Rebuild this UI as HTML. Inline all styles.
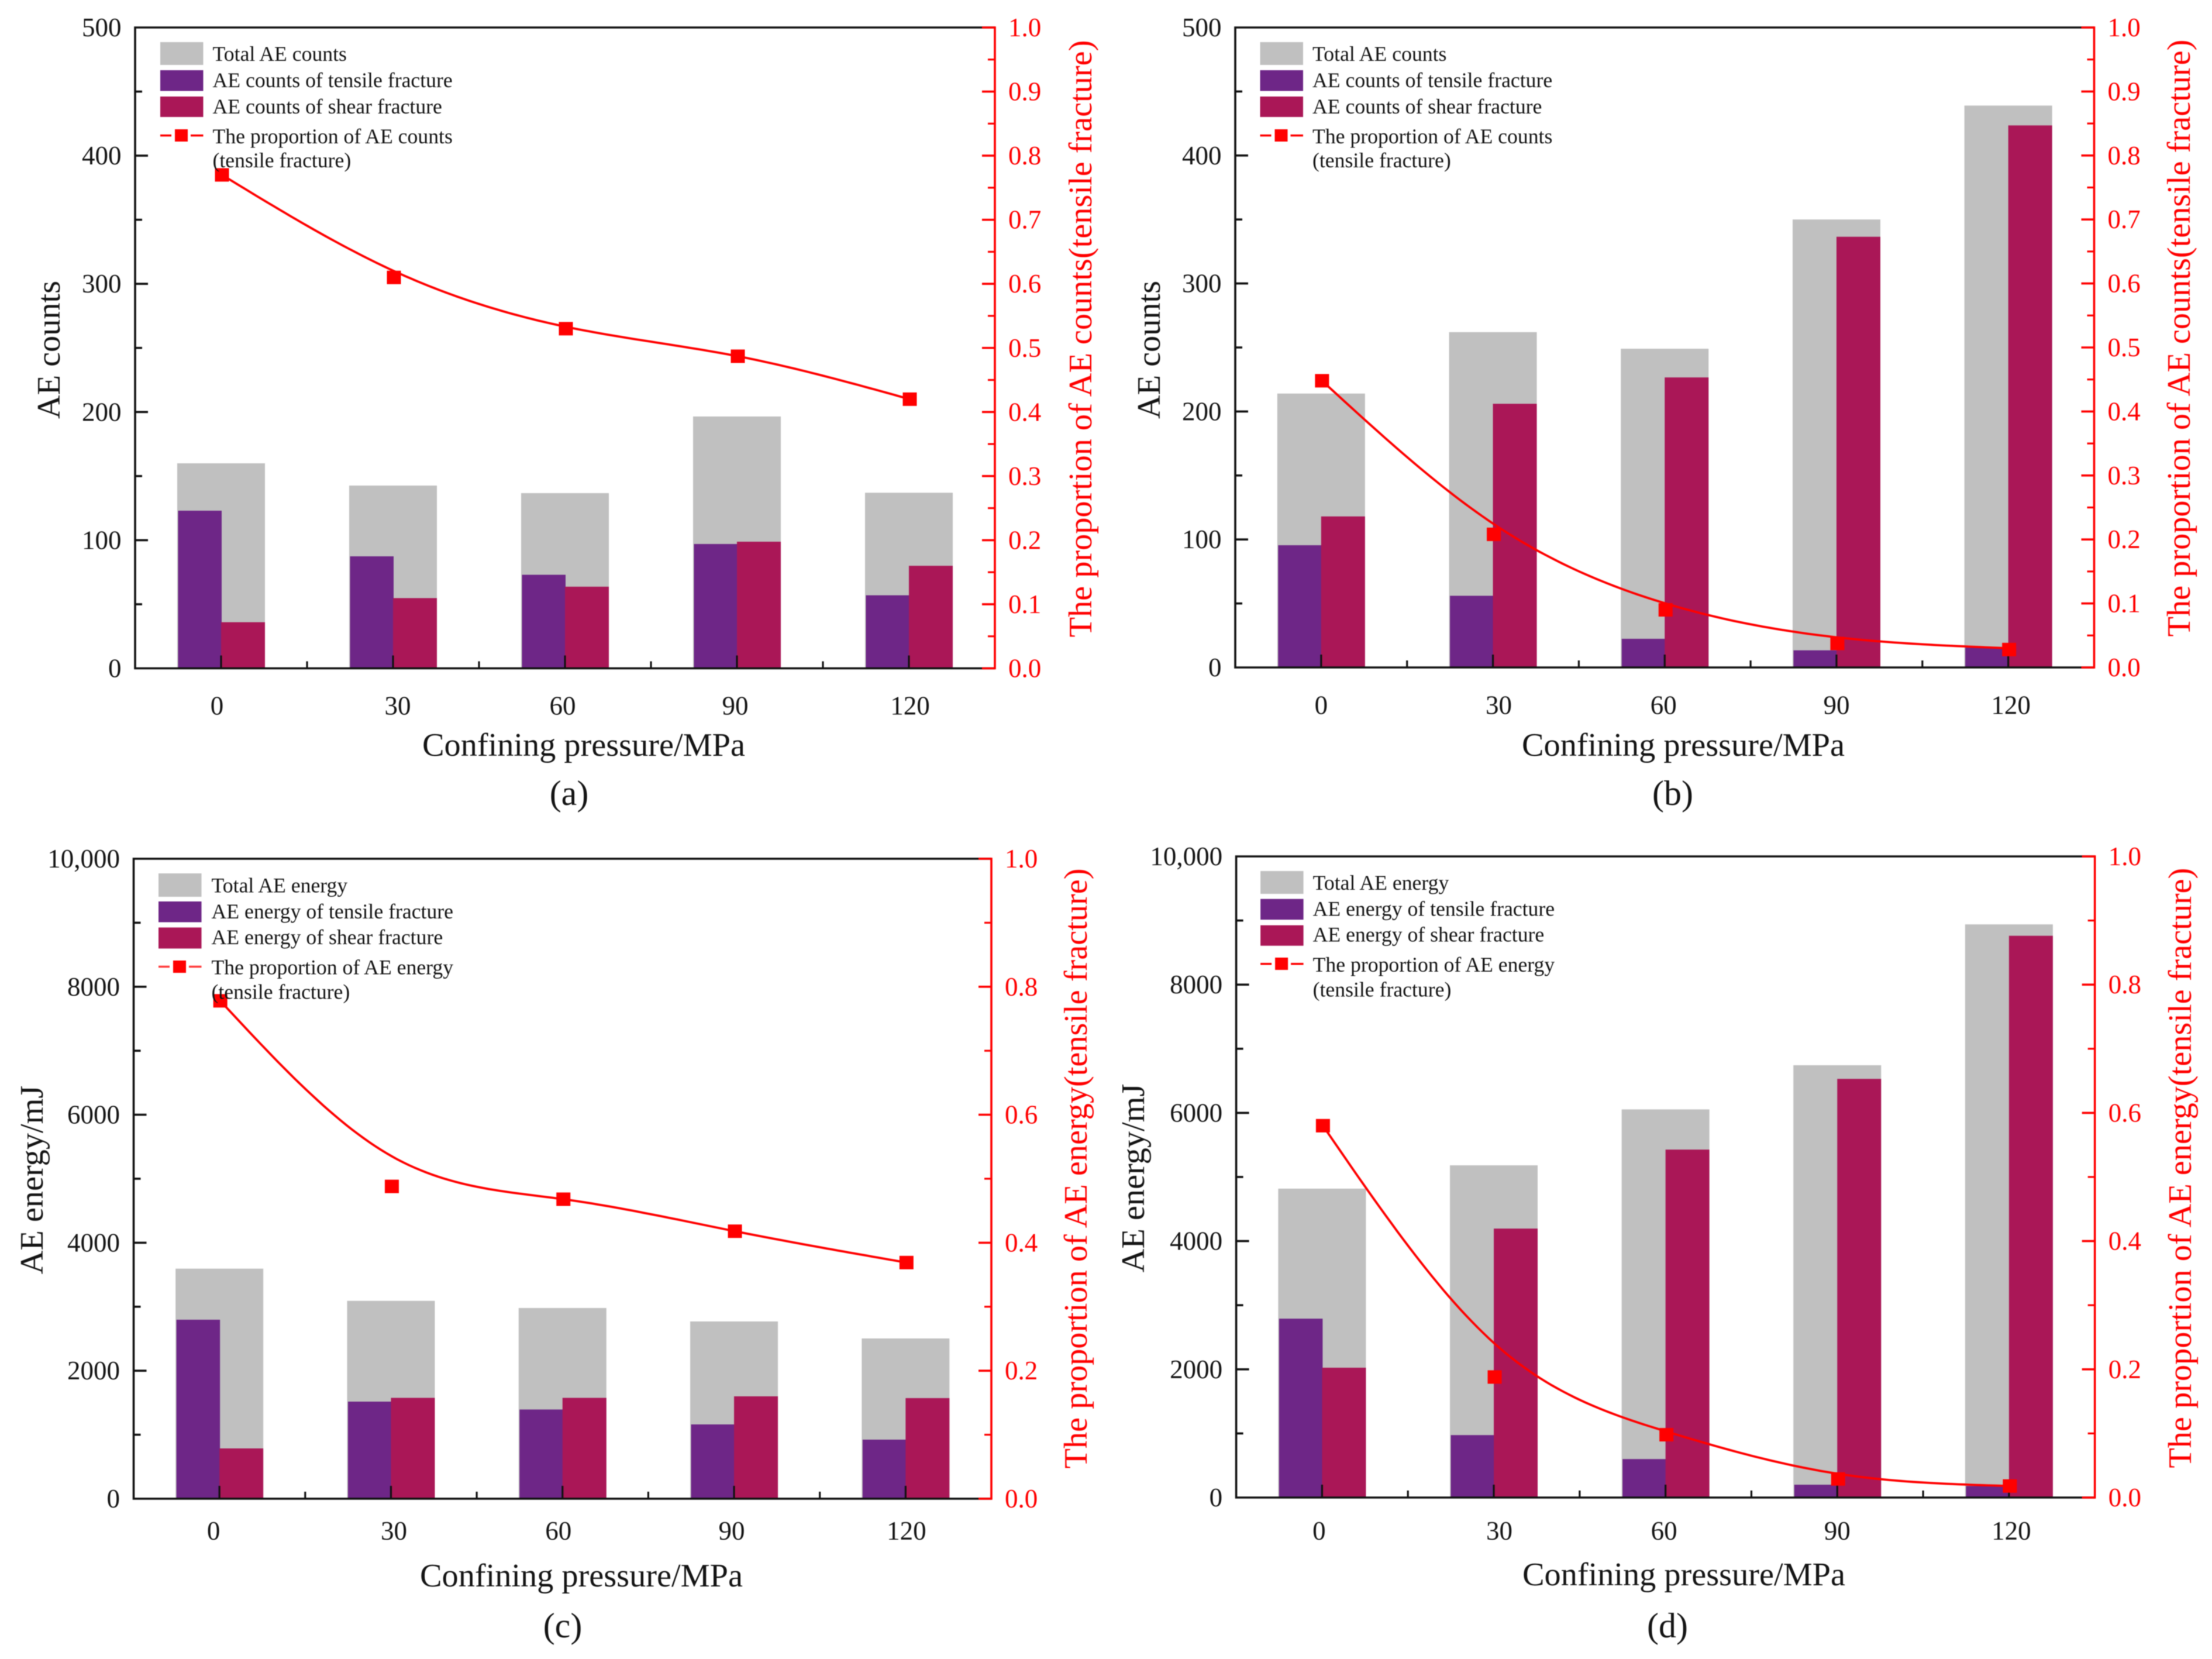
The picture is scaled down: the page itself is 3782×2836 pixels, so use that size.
<!DOCTYPE html>
<html lang="en">
<head>
<meta charset="utf-8">
<title>AE counts and AE energy versus confining pressure</title>
<style>
html,body{margin:0;padding:0;background:#fff;}
svg{display:block;filter:blur(0.8px);}
text{font-family:"Liberation Serif","Times New Roman",serif;fill:#141414;}
.tick{font-size:45px;}
.tick-red{font-size:45px;fill:#ff0000;}
.legend{font-size:35.7px;}
.title{font-size:56.3px;}
.title-red{font-size:56.3px;fill:#ff0000;}
.caption{font-size:60px;}
</style>
</head>
<body>
<svg xmlns="http://www.w3.org/2000/svg" width="3782" height="2836" viewBox="0 0 3782 2836">
<rect width="3782" height="2836" fill="#fff"/>

<g id="panel-a">
  <g id="marks-a"></g>
  <text class="title" transform="translate(102,598) rotate(-90)" text-anchor="middle">AE counts</text>
  <text class="title-red" transform="translate(1866,579) rotate(-90)" text-anchor="middle">The proportion of AE counts(tensile fracture)</text>
  <text class="title" x="998" y="1292" text-anchor="middle">Confining pressure/MPa</text>
  <text class="caption" x="973" y="1376" text-anchor="middle">(a)</text>
  <g transform="translate(231,47)">
    <rect x="43" y="25" width="73.5" height="39" fill="#c0c0c0"/>
    <rect x="43" y="73" width="73.5" height="35.5" fill="#6e2687"/>
    <rect x="43" y="118" width="73.5" height="35" fill="#aa1757"/>
    <path d="M43 184.6H62M95 184.6H116.5" stroke="#ff0000" stroke-width="3.5" fill="none"/>
    <rect x="68" y="174" width="22" height="21" fill="#ff0000"/>
    <text class="legend" x="132.5" y="57">Total AE counts</text>
    <text class="legend" x="132.5" y="102">AE counts of tensile fracture</text>
    <text class="legend" x="132.5" y="147">AE counts of shear fracture</text>
    <text class="legend" x="132.5" y="198">The proportion of AE counts</text>
    <text class="legend" x="132.5" y="239">(tensile fracture)</text>
  </g>
</g>

<g id="panel-b">
  <g id="marks-b"></g>
  <text class="title" transform="translate(1983,598) rotate(-90)" text-anchor="middle">AE counts</text>
  <text class="title-red" transform="translate(3744,578) rotate(-90)" text-anchor="middle">The proportion of AE counts(tensile fracture)</text>
  <text class="title" x="2878" y="1292" text-anchor="middle">Confining pressure/MPa</text>
  <text class="caption" x="2860" y="1376" text-anchor="middle">(b)</text>
  <g transform="translate(2112,47)">
    <rect x="42.5" y="25" width="73.5" height="39" fill="#c0c0c0"/>
    <rect x="42.5" y="73" width="73.5" height="35.5" fill="#6e2687"/>
    <rect x="42.5" y="118" width="73.5" height="35" fill="#aa1757"/>
    <path d="M42.5 184.6H61.5M94.5 184.6H116" stroke="#ff0000" stroke-width="3.5" fill="none"/>
    <rect x="67.5" y="174" width="22" height="21" fill="#ff0000"/>
    <text class="legend" x="132" y="57">Total AE counts</text>
    <text class="legend" x="132" y="102">AE counts of tensile fracture</text>
    <text class="legend" x="132" y="147">AE counts of shear fracture</text>
    <text class="legend" x="132" y="198">The proportion of AE counts</text>
    <text class="legend" x="132" y="239">(tensile fracture)</text>
  </g>
</g>

<g id="panel-c">
  <g id="marks-c"></g>
  <text class="title" transform="translate(73,2017) rotate(-90)" text-anchor="middle">AE energy/mJ</text>
  <text class="title-red" transform="translate(1858,1997.5) rotate(-90)" text-anchor="middle">The proportion of AE energy(tensile fracture)</text>
  <text class="title" x="994" y="2712" text-anchor="middle">Confining pressure/MPa</text>
  <text class="caption" x="962" y="2799" text-anchor="middle">(c)</text>
  <g transform="translate(228.5,1468)">
    <rect x="42.5" y="25" width="73.5" height="40" fill="#c0c0c0"/>
    <rect x="42.5" y="73" width="73.5" height="35.5" fill="#6e2687"/>
    <rect x="42.5" y="117.5" width="73.5" height="36" fill="#aa1757"/>
    <path d="M42.5 184.5H61.5M94.5 184.5H116" stroke="#ff3b3b" stroke-width="3.5" fill="none"/>
    <rect x="67.5" y="174" width="22" height="21" fill="#ff0000"/>
    <text class="legend" x="133" y="57.7">Total AE energy</text>
    <text class="legend" x="133" y="102">AE energy of tensile fracture</text>
    <text class="legend" x="133" y="146">AE energy of shear fracture</text>
    <text class="legend" x="133" y="197.4">The proportion of AE energy</text>
    <text class="legend" x="133" y="239.5">(tensile fracture)</text>
  </g>
</g>

<g id="panel-d">
  <g id="marks-d"></g>
  <text class="title" transform="translate(1956,2014) rotate(-90)" text-anchor="middle">AE energy/mJ</text>
  <text class="title-red" transform="translate(3746,1996.6) rotate(-90)" text-anchor="middle">The proportion of AE energy(tensile fracture)</text>
  <text class="title" x="2879" y="2710" text-anchor="middle">Confining pressure/MPa</text>
  <text class="caption" x="2851" y="2799" text-anchor="middle">(d)</text>
  <g transform="translate(2113.6,1464)">
    <rect x="41.5" y="25" width="73.5" height="39" fill="#c0c0c0"/>
    <rect x="41.5" y="72.7" width="73.5" height="35.5" fill="#6e2687"/>
    <rect x="41.5" y="117.7" width="73.5" height="35" fill="#aa1757"/>
    <path d="M41.5 183.7H60.5M93.5 183.7H115" stroke="#ff0000" stroke-width="3.5" fill="none"/>
    <rect x="66.5" y="173" width="22" height="21" fill="#ff0000"/>
    <text class="legend" x="131" y="57">Total AE energy</text>
    <text class="legend" x="131" y="101.4">AE energy of tensile fracture</text>
    <text class="legend" x="131" y="145.4">AE energy of shear fracture</text>
    <text class="legend" x="131" y="197">The proportion of AE energy</text>
    <text class="legend" x="131" y="239.7">(tensile fracture)</text>
  </g>
</g>
</svg>

<script>
// ---- Data ----
const categories = ['0', '30', '60', '90', '120'];

const countTickValues = [0, 100, 200, 300, 400, 500];
const countTickLabels = ['0', '100', '200', '300', '400', '500'];
const energyTickValues = [0, 2000, 4000, 6000, 8000, 10000];
const energyTickLabels = ['0', '2000', '4000', '6000', '8000', '10,000'];
const ratioTickValuesFine = [0, 0.1, 0.2, 0.3, 0.4, 0.5, 0.6, 0.7, 0.8, 0.9, 1];
const ratioTickLabelsFine = ['0.0', '0.1', '0.2', '0.3', '0.4', '0.5', '0.6', '0.7', '0.8', '0.9', '1.0'];
const ratioTickValuesCoarse = [0, 0.2, 0.4, 0.6, 0.8, 1];
const ratioTickLabelsCoarse = ['0.0', '0.2', '0.4', '0.6', '0.8', '1.0'];

const totalA = [160, 142.6, 136.7, 196.5, 137];
const tensileA = [123, 87.4, 73, 97, 57];
const shearA = [36, 54.8, 63.7, 98.8, 80];
const proportionA = [0.77, 0.61, 0.53, 0.487, 0.42];
const fitA = [0.77, 0.62, 0.533, 0.487, 0.42];

const totalB = [214, 262, 249, 350, 439];
const tensileB = [95.5, 56, 22.4, 13.4, 15.5];
const shearB = [118, 206, 226.6, 336.5, 423.5];
const proportionB = [0.448, 0.208, 0.09, 0.0375, 0.028];
const fitB = [0.448, 0.224, 0.1, 0.047, 0.03];

const totalC = [3595, 3092, 2980, 2770, 2504];
const tensileC = [2797, 1517, 1394, 1161, 923];
const shearC = [786, 1576, 1576, 1600, 1572];
const proportionC = [0.778, 0.488, 0.468, 0.418, 0.369];
const fitC = [0.778, 0.535, 0.468, 0.418, 0.369];

const totalD = [4818, 5182, 6054, 6743, 8940];
const tensileD = [2790, 974, 600, 200, 180];
const shearD = [2025, 4195, 5427, 6530, 8762];
const proportionD = [0.58, 0.188, 0.098, 0.029, 0.018];
const fitD = [0.58, 0.24, 0.103, 0.037, 0.018];

// ---- Panel wiring and layout ----
const panels = [
  { id: 'a', total: totalA, tensile: tensileA, shear: shearA, proportion: proportionA, fit: fitA,
    yMax: 500, ticks: countTickValues, labels: countTickLabels,
    rTicks: ratioTickValuesFine, rLabels: ratioTickLabelsFine,
    box: { left: 231, right: 1701, top: 47, bottom: 1142.5, xLabelY: 1221.5, nudge: [-7, 8, -4, -3, 2] } },
  { id: 'b', total: totalB, tensile: tensileB, shear: shearB, proportion: proportionB, fit: fitB,
    yMax: 500, ticks: countTickValues, labels: countTickLabels,
    rTicks: ratioTickValuesFine, rLabels: ratioTickLabelsFine,
    box: { left: 2112, right: 3580.5, top: 47, bottom: 1141, xLabelY: 1220.5, nudge: [0, 10, -2, 0, 4.5] } },
  { id: 'c', total: totalC, tensile: tensileC, shear: shearC, proportion: proportionC, fit: fitC,
    yMax: 10000, ticks: energyTickValues, labels: energyTickLabels,
    rTicks: ratioTickValuesCoarse, rLabels: ratioTickLabelsCoarse,
    box: { left: 228.5, right: 1695, top: 1468, bottom: 2562, xLabelY: 2632, nudge: [-10, 5, -7, -4, 1.5] } },
  { id: 'd', total: totalD, tensile: tensileD, shear: shearD, proportion: proportionD, fit: fitD,
    yMax: 10000, ticks: energyTickValues, labels: energyTickLabels,
    rTicks: ratioTickValuesCoarse, rLabels: ratioTickLabelsCoarse,
    box: { left: 2113.6, right: 3581.7, top: 1464, bottom: 2560, xLabelY: 2632, nudge: [-5, 9.5, -2.5, 0, 4] } }
];

const NS = 'http://www.w3.org/2000/svg';
const PURPLE = '#6e2687', CRIMSON = '#aa1757', GREY = '#c0c0c0', RED = '#ff0000', AXIS = '#111111';
const AXIS_W = 3.6, BAR_HALF = 75, MARKER_W = 24, MARKER_H = 23, MARK_SHIFT = 1.5;
const MAJOR = 22, MINOR = 12;

function mk(tag, attrs, parent) {
  const el = document.createElementNS(NS, tag);
  for (const k in attrs) el.setAttribute(k, attrs[k]);
  parent.appendChild(el);
  return el;
}

// Natural cubic spline through the fitted-curve values
function splinePath(xs, ys) {
  const n = xs.length, h = [], al = [0], l = [1], mu = [0], z = [0], c = new Array(n).fill(0), b = [], d = [];
  for (let i = 0; i < n - 1; i++) h[i] = xs[i + 1] - xs[i];
  for (let i = 1; i < n - 1; i++) {
    al[i] = 3 / h[i] * (ys[i + 1] - ys[i]) - 3 / h[i - 1] * (ys[i] - ys[i - 1]);
    l[i] = 2 * (xs[i + 1] - xs[i - 1]) - h[i - 1] * mu[i - 1];
    mu[i] = h[i] / l[i];
    z[i] = (al[i] - h[i - 1] * z[i - 1]) / l[i];
  }
  for (let j = n - 2; j >= 0; j--) {
    c[j] = (j === 0 ? 0 : z[j]) - (j === 0 ? 0 : mu[j]) * c[j + 1];
    b[j] = (ys[j + 1] - ys[j]) / h[j] - h[j] * (c[j + 1] + 2 * c[j]) / 3;
    d[j] = (c[j + 1] - c[j]) / (3 * h[j]);
  }
  let p = 'M' + xs[0].toFixed(1) + ' ' + ys[0].toFixed(1);
  for (let i = 0; i < n - 1; i++) {
    for (let s = 1; s <= 30; s++) {
      const t = h[i] * s / 30;
      const v = ys[i] + b[i] * t + c[i] * t * t + d[i] * t * t * t;
      p += 'L' + (xs[i] + t).toFixed(1) + ' ' + v.toFixed(1);
    }
  }
  return p;
}

panels.forEach(function (panel) {
  const box = panel.box;
  const g = document.getElementById('marks-' + panel.id);
  const step = (box.right - box.left) / categories.length;
  const xScale = function (i) { return box.left + (i + 0.5) * step; };
  const yScale = function (v) { return box.bottom - v / panel.yMax * (box.bottom - box.top); };
  const rScale = function (v) { return box.bottom - v * (box.bottom - box.top); };

  // bars
  categories.forEach(function (cat, i) {
    const cx = xScale(i);
    const total = mk('rect', { x: cx - BAR_HALF, y: yScale(panel.total[i]), width: BAR_HALF * 2, height: box.bottom - yScale(panel.total[i]), fill: GREY }, g);
    
    
    const tensile = mk('rect', { x: cx - BAR_HALF + 1.5, y: yScale(panel.tensile[i]), width: BAR_HALF - 0.5, height: box.bottom - yScale(panel.tensile[i]), fill: PURPLE }, g);
    
    
    const shear = mk('rect', { x: cx, y: yScale(panel.shear[i]), width: BAR_HALF, height: box.bottom - yScale(panel.shear[i]), fill: CRIMSON }, g);
    
    
  });

  // black frame
  const frame = mk('path', {
    d: 'M' + box.left + ' ' + box.top + 'H' + box.right + 'M' + box.left + ' ' + (box.top - 1.8) + 'V' + (box.bottom + 1.8) + 'M' + box.left + ' ' + box.bottom + 'H' + box.right,
    stroke: AXIS, 'stroke-width': AXIS_W, fill: 'none'
  }, g);
  
  

  // left ticks
  panel.ticks.forEach(function (v, i) {
    const y = yScale(v);
    if (i > 0 && i < panel.ticks.length - 1) {
      const t = mk('line', { x1: box.left, x2: box.left + MAJOR, y1: y, y2: y, stroke: AXIS, 'stroke-width': 3.6 }, g);
      
      
    }
    if (i < panel.ticks.length - 1) {
      const my = yScale((v + panel.ticks[i + 1]) / 2);
      const m = mk('line', { x1: box.left, x2: box.left + MINOR, y1: my, y2: my, stroke: AXIS, 'stroke-width': 3.6 }, g);
      
      
    }
    const label = mk('text', { x: box.left - 23.5, y: y + 15, 'text-anchor': 'end', class: 'tick' }, g);
    label.textContent = panel.labels[i];
    
    
  });

  // x ticks and labels
  categories.forEach(function (cat, i) {
    const x = xScale(i);
    const t = mk('line', { x1: x, x2: x, y1: box.bottom, y2: box.bottom - MAJOR, stroke: AXIS, 'stroke-width': 3.2 }, g);
    
    
    if (i < categories.length - 1) {
      const mx = xScale(i + 0.5);
      const m = mk('line', { x1: mx, x2: mx, y1: box.bottom, y2: box.bottom - MINOR, stroke: AXIS, 'stroke-width': 3.2 }, g);
      
      
    }
    const label = mk('text', { x: x + box.nudge[i], y: box.xLabelY, 'text-anchor': 'middle', class: 'tick' }, g);
    label.textContent = cat;
    
    
  });

  // red axis
  const rAxis = mk('line', { x1: box.right, x2: box.right, y1: box.top - 1.8, y2: box.bottom + 1.8, stroke: RED, 'stroke-width': AXIS_W }, g);
  
  
  panel.rTicks.forEach(function (v, i) {
    const y = rScale(v);
    const t = mk('line', { x1: box.right, x2: box.right - MAJOR, y1: y, y2: y, stroke: RED, 'stroke-width': 3.6 }, g);
    
    
    if (i < panel.rTicks.length - 1) {
      const my = rScale((v + panel.rTicks[i + 1]) / 2);
      const m = mk('line', { x1: box.right, x2: box.right - MINOR, y1: my, y2: my, stroke: RED, 'stroke-width': 3.2 }, g);
      
      
    }
    const label = mk('text', { x: box.right + 23, y: y + 15, class: 'tick-red' }, g);
    label.textContent = panel.rLabels[i];
    
    
  });

  // fitted curve and markers
  const xs = categories.map(function (c, i) { return xScale(i) + MARK_SHIFT; });
  const ys = panel.fit.map(rScale);
  const curve = mk('path', { d: splinePath(xs, ys), fill: 'none', stroke: RED, 'stroke-width': 3.8 }, g);
  
  
  panel.proportion.forEach(function (v, i) {
    const m = mk('rect', { x: xScale(i) + MARK_SHIFT - MARKER_W / 2, y: rScale(v) - MARKER_H / 2, width: MARKER_W, height: MARKER_H, fill: RED }, g);
    
    
  });
});
</script>
</body>
</html>
